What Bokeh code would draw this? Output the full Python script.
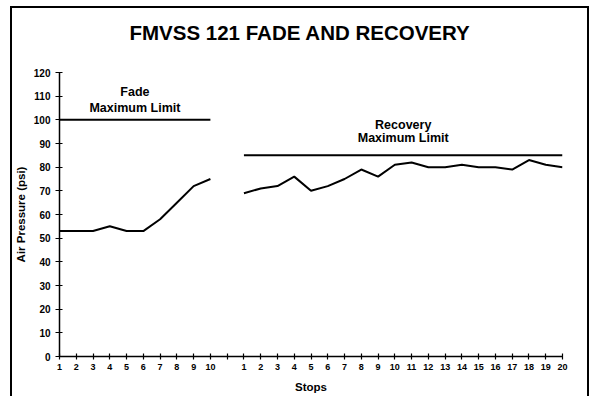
from bokeh.plotting import figure
from bokeh.models import Range1d, FixedTicker, Label
from bokeh.embed import file_html
from bokeh.resources import INLINE

# ---- data ----
fade_stops = ["1", "2", "3", "4", "5", "6", "7", "8", "9", "10"]
fade_pressure = [53, 53, 53, 55, 53, 53, 58, 65, 72, 75]
recovery_stops = [str(i) for i in range(1, 21)]
recovery_pressure = [69, 71, 72, 76, 70, 72, 75, 79, 76, 81,
                     82, 80, 80, 81, 80, 80, 79, 83, 81, 80]
fade_limit = 100
recovery_limit = 85
y_ticks = [0, 10, 20, 30, 40, 50, 60, 70, 80, 90, 100, 110, 120]

# category positions: fade stops, one blank slot, recovery stops
fade_x = list(range(len(fade_stops)))
gap_x = len(fade_stops)
rec_x = [gap_x + 1 + i for i in range(len(recovery_stops))]
all_x = fade_x + [gap_x] + rec_x
all_labels = fade_stops + [""] + recovery_stops
overrides = {x: lab for x, lab in zip(all_x, all_labels)}

FONT = "Liberation Sans"
W, H = 591, 396

p = figure(width=W, height=H, output_backend="svg", toolbar_location=None,
           x_range=Range1d(all_x[0], all_x[-1]), y_range=Range1d(y_ticks[0], y_ticks[-1]),
           min_border_left=59, min_border_right=29, min_border_top=72, min_border_bottom=40)

# outer chart border drawn as CSS background lines behind a transparent canvas
p.border_fill_color = None
p.styles = {
    "background": (
        "linear-gradient(#000,#000) 10px 6px / 2px 100% no-repeat, "
        "linear-gradient(#000,#000) 10px 6px / 579px 2px no-repeat, "
        "linear-gradient(#000,#000) 587px 6px / 2px 100% no-repeat, "
        "#fff"
    )
}

# a trailing empty line lifts the title's visible line higher above the frame
p.title.text = "FMVSS 121 FADE AND RECOVERY\n "
p.title.align = "left"
p.title.offset = 70
p.title.text_font = FONT
p.title.text_font_size = "20.5px"
p.title.text_font_style = "bold"
p.title.text_color = "black"
p.title.standoff = 11

p.outline_line_color = None
p.xgrid.grid_line_color = None
p.ygrid.grid_line_color = None

# axes
main_x = p.below[0]
main_y = p.left[0]
main_x.ticker = FixedTicker(ticks=all_x)
main_x.major_label_overrides = overrides
main_y.ticker = FixedTicker(ticks=y_ticks)
for ax in (main_x, main_y):
    ax.axis_line_color = "black"
    ax.axis_line_width = 1.5
    ax.major_tick_line_color = "black"
    ax.major_tick_line_width = 1.2
    ax.minor_tick_line_color = None
    ax.major_label_text_font = FONT
    ax.major_label_text_font_style = "bold"
    ax.major_label_text_color = "black"
    ax.axis_label_text_font = FONT
    ax.axis_label_text_font_style = "bold"
    ax.axis_label_text_color = "black"
    ax.axis_label_text_font_size = "11.5px"
main_x.major_tick_in = 3
main_x.major_tick_out = 3
main_y.major_tick_in = 3
main_y.major_tick_out = 4
main_x.major_label_text_font_size = "9px"
main_y.major_label_text_font_size = "10px"
main_x.major_label_standoff = 4
main_y.major_label_standoff = 5
main_x.axis_label = "Stops"
main_y.axis_label = "Air Pressure (psi)"
main_x.axis_label_standoff = 8
main_y.axis_label_standoff = 4

# lines
p.line(fade_x, fade_pressure, line_color="black", line_width=2)
p.line(rec_x, recovery_pressure, line_color="black", line_width=2)
p.line([fade_x[0], fade_x[-1]], [fade_limit, fade_limit], line_color="black", line_width=2)
p.line([rec_x[0], rec_x[-1]], [recovery_limit, recovery_limit], line_color="black", line_width=2)

fade_mid = (fade_x[0] + fade_x[-1]) / 2
rec_mid = (rec_x[0] + rec_x[-1]) / 2
for x, y, t in [(fade_mid, 111.9, "Fade"), (fade_mid, 104.8, "Maximum Limit"),
                (rec_mid, 98, "Recovery"), (rec_mid, 92.2, "Maximum Limit")]:
    p.add_layout(Label(x=x, y=y, text=t, text_align="center", text_baseline="middle",
                       text_font=FONT, text_font_style="bold", text_font_size="12.5px",
                       text_color="black"))

open("out.html", "w").write(file_html(p, INLINE))
